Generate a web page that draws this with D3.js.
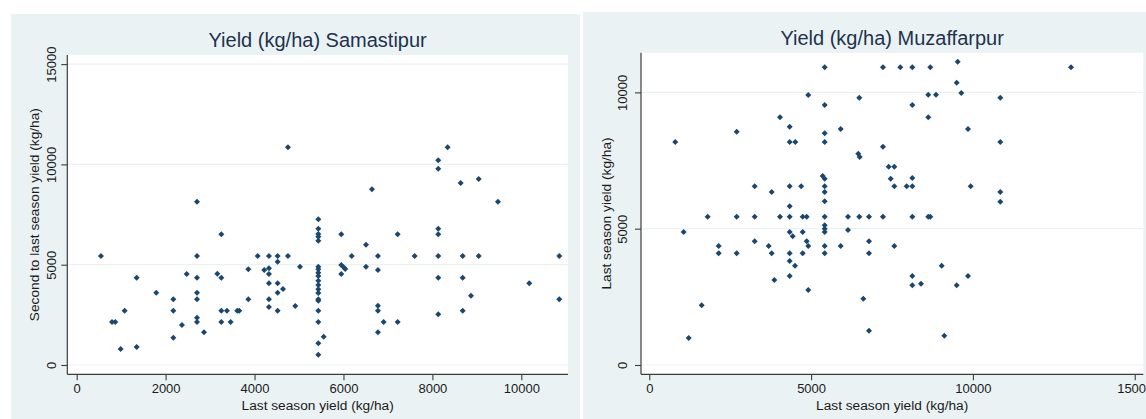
<!DOCTYPE html>
<html>
<head>
<meta charset="utf-8">
<script src="https://cdn.jsdelivr.net/npm/d3@7"></script>
<style>
  html, body { margin: 0; padding: 0; background: #ffffff; }
  svg { display: block; }
</style>
</head>
<body>
<svg id="chart" width="1146" height="419"></svg>
<script>
// ---------------- DATA ----------------
// Samastipur: last season yield (x) vs second to last season yield (y)
const samastipurLast = [
  546, 1349, 794, 868, 1079, 989, 1349, 1790, 2173, 2173, 2368, 2173, 2474,
  2706, 2706, 2706, 2706, 2706, 2706, 2706, 2863, 3163, 3253, 3253, 3253, 3380,
  3253, 3463, 3612, 3657, 3860, 3860, 4071, 4219, 4324, 4324, 4324, 4324, 4324,
  4324, 4520, 4520, 4520, 4520, 4520, 4640, 4752, 4752, 4916, 5022,
  5434, 5434, 5434, 5434, 5434, 5434, 5434, 5434, 5434, 5434, 5434, 5434, 5434,
  5434, 5434, 5434, 5434, 5434, 5434,
  5555, 5951, 5951, 6005, 6041, 5951, 6185, 6507, 6507, 6641, 6776, 6776, 6776,
  6776, 6776, 6904, 7219, 7219, 7601, 8132, 8132, 8132, 8132, 8132, 8132, 8132,
  8343, 8636, 8681, 8681, 8681, 8868, 9041, 9041, 9475, 10179, 10854, 10854
];
const samastipurSecond = [
  5434, 4352, 2144, 2144, 2707, 798, 897, 3604, 3275, 2707, 1994, 1361, 4536,
  8141, 5434, 4352, 3604, 3275, 2358, 2144, 1630, 4551, 4352, 6515, 2707, 2707,
  2144, 2144, 2707, 2707, 4770, 3275, 5434, 4736, 4820, 4536, 5434, 4072, 3275,
  2891, 5434, 5150, 4072, 3604, 2707, 3789, 10853, 5434, 2941, 4902,
  7262, 6796, 6530, 6396, 6197, 4902, 4770, 4603, 4437, 4203, 3988, 3774, 3589,
  3275, 3205, 2707, 2144, 1082, 514,
  1411, 6515, 4985, 4870, 4786, 4536, 5434, 5997, 4902, 8759, 5434, 4736, 2957,
  2707, 1630, 2144, 6515, 2144, 5434, 10204, 9787, 6796, 6515, 5434, 4352, 2525,
  10853, 9073, 5434, 4352, 2707, 3455, 9272, 5434, 8141, 4072, 5434, 3275
];

// Muzaffarpur: x = last season yield, y = last season yield (as labelled)
const muzaffarpurX = [
  803, 1062, 1217, 1619, 1804, 2144, 2144, 2700, 2700, 2700, 3257, 3257, 3257,
  3689, 3782, 3782, 3864, 4039, 4039, 4338, 4338, 4513, 4338, 4694, 4338, 4338,
  4338, 4431, 4338, 4338, 4502, 4338, 4740, 4864, 4740, 4740, 4864, 4913, 4913,
  4913, 5420, 5420, 5420, 5420, 5358, 5420, 5420, 5420, 5420, 5420, 5420, 5420,
  5420, 5420, 5420, 5914, 5914, 6140, 6140, 6489, 6458, 6501, 6489, 6613, 6789,
  6789, 6789, 6789, 7221, 7221, 7221, 7397, 7571, 7459, 7571, 7571, 7756, 7953,
  8127, 8127, 8127, 8127, 8127, 8127, 8127, 8396, 8621, 8621, 8621, 8683, 8683,
  8859, 9035, 9116, 9499, 9529, 9499, 9642, 9848, 9848, 9931, 10846, 10846,
  10846, 10846, 13031
];
const muzaffarpurY = [
  8180, 4878, 990, 2189, 5440, 4365, 4097, 8558, 5440, 4097, 6555, 5440, 4537,
  4365, 6346, 4097, 3118, 9086, 5440, 8741, 8180, 8180, 6555, 6555, 5821, 5440,
  4878, 4720, 4097, 3815, 3642, 3265, 5440, 5440, 4878, 4097, 4537, 4365, 9904,
  2751, 10920, 9537, 8499, 8180, 6932, 6834, 6555, 6346, 6004, 5440, 5124, 5000,
  4878, 4365, 4097, 8656, 4365, 5440, 4952, 9805, 7751, 7629, 5440, 2432, 5440,
  4537, 4097, 1258, 10920, 8008, 5440, 7274, 7274, 6834, 6555, 4365, 10920, 6555,
  6555, 6859, 10920, 9537, 5440, 3265, 2923, 2983, 9916, 9086, 5440, 5440, 10920,
  9916, 3642, 1075, 2923, 11125, 10355, 9977, 8656, 3265, 6555, 9805, 8180,
  6346, 5990, 10920
];

const titles = ["Yield (kg/ha) Samastipur", "Yield (kg/ha) Muzaffarpur"];
const xTitles = ["Last season yield (kg/ha)", "Last season yield (kg/ha)"];
const yTitles = ["Second to last season yield (kg/ha)", "Last season yield (kg/ha)"];
const leftXTicks = [0, 2000, 4000, 6000, 8000, 10000];
const leftYTicks = [0, 5000, 10000, 15000];
const rightXTicks = [0, 5000, 10000, 15000];
const rightYTicks = [0, 5000, 10000];

// ---------------- STYLE ----------------
const FONT = "'Liberation Sans', Arial, Helvetica, sans-serif";
const BG = "#eaf2f3";
const MARK = "#1a476f";
const GRID = "#eaf2f3";
const AXIS = "#3c3c3c";
const TEXT = "#1b1b1b";
const TITLE = "#1e3250";

const svg = d3.select("#chart");

const panels = [
  {
    bg: [11, 14, 580, 419],
    plot: [67.3, 55, 568, 374.3],
    xDomain: [-211, 11050], yDomain: [-464, 15454],
    xTicks: leftXTicks, yTicks: leftYTicks,
    xs: samastipurLast, ys: samastipurSecond,
    title: titles[0], xTitle: xTitles[0], yTitle: yTitles[0],
    titleY: 47, yLabelOff: 11.7, yTitleX: 38.5
  },
  {
    bg: [583, 12, 1146, 419],
    plot: [641, 52.7, 1143.3, 374.3],
    xDomain: [-256, 15265], yDomain: [-341, 11455],
    xTicks: rightXTicks, yTicks: rightYTicks,
    xs: muzaffarpurX, ys: muzaffarpurY,
    title: titles[1], xTitle: xTitles[1], yTitle: yTitles[1],
    titleY: 45, yLabelOff: 14, yTitleX: 611
  }
];

const diamond = d3.symbol().type(d3.symbolDiamond2).size(23)();

panels.forEach(p => {
  const [bx0, by0, bx1, by1] = p.bg;
  const [px0, py0, px1, py1] = p.plot;
  const g = svg.append("g");

  g.append("rect").attr("x", bx0).attr("y", by0)
    .attr("width", bx1 - bx0).attr("height", by1 - by0).attr("fill", BG);
  g.append("rect").attr("x", px0).attr("y", py0)
    .attr("width", px1 - px0).attr("height", py1 - py0).attr("fill", "#ffffff");

  const x = d3.scaleLinear().domain(p.xDomain).range([px0, px1]);
  const y = d3.scaleLinear().domain(p.yDomain).range([py1, py0]);

  // gridlines
  g.append("g").selectAll("line").data(p.yTicks).join("line")
    .attr("x1", px0).attr("x2", px1)
    .attr("y1", d => y(d)).attr("y2", d => y(d))
    .attr("stroke", GRID).attr("stroke-width", 1.2);

  // points
  const pts = p.xs.map((v, i) => [v, p.ys[i]]);
  g.append("g").selectAll("path").data(pts).join("path")
    .attr("d", diamond)
    .attr("transform", d => `translate(${x(d[0])},${y(d[1])})`)
    .attr("fill", MARK);

  // x axis
  const xa = g.append("g").attr("transform", `translate(0,${py1})`)
    .call(d3.axisBottom(x).tickValues(p.xTicks).tickFormat(d3.format("d"))
      .tickSize(6).tickSizeOuter(0).tickPadding(3));
  xa.select(".domain").attr("stroke", AXIS).attr("stroke-width", 1.2)
    .attr("d", `M${px0},0H${px1}`);
  xa.selectAll(".tick line").attr("stroke", AXIS).attr("stroke-width", 1.1);
  xa.selectAll(".tick text").attr("font-family", FONT).attr("font-size", "13px")
    .attr("fill", TEXT);

  // y axis
  const ya = g.append("g").attr("transform", `translate(${px0},0)`)
    .call(d3.axisLeft(y).tickValues(p.yTicks).tickFormat(d3.format("d"))
      .tickSize(6).tickSizeOuter(0));
  ya.select(".domain").attr("stroke", AXIS).attr("stroke-width", 1.2)
    .attr("d", `M0,${py0}V${py1}`);
  ya.selectAll(".tick line").attr("stroke", AXIS).attr("stroke-width", 1.1);
  ya.selectAll(".tick text")
    .attr("font-family", FONT).attr("font-size", "13px").attr("fill", TEXT)
    .attr("transform", "rotate(-90)")
    .attr("x", 0).attr("y", -p.yLabelOff).attr("dy", 0)
    .attr("text-anchor", "middle");

  // titles
  g.append("text").attr("x", (px0 + px1) / 2).attr("y", p.titleY)
    .attr("text-anchor", "middle").attr("font-family", FONT)
    .attr("font-size", "20px").attr("fill", TITLE).text(p.title);
  g.append("text").attr("x", (px0 + px1) / 2).attr("y", 410)
    .attr("text-anchor", "middle").attr("font-family", FONT)
    .attr("font-size", "13.7px").attr("fill", TEXT).text(p.xTitle);
  g.append("text")
    .attr("transform", `translate(${p.yTitleX},${(py0 + py1) / 2}) rotate(-90)`)
    .attr("text-anchor", "middle").attr("font-family", FONT)
    .attr("font-size", "13.7px").attr("fill", TEXT).text(p.yTitle);
});
</script>
</body>
</html>
